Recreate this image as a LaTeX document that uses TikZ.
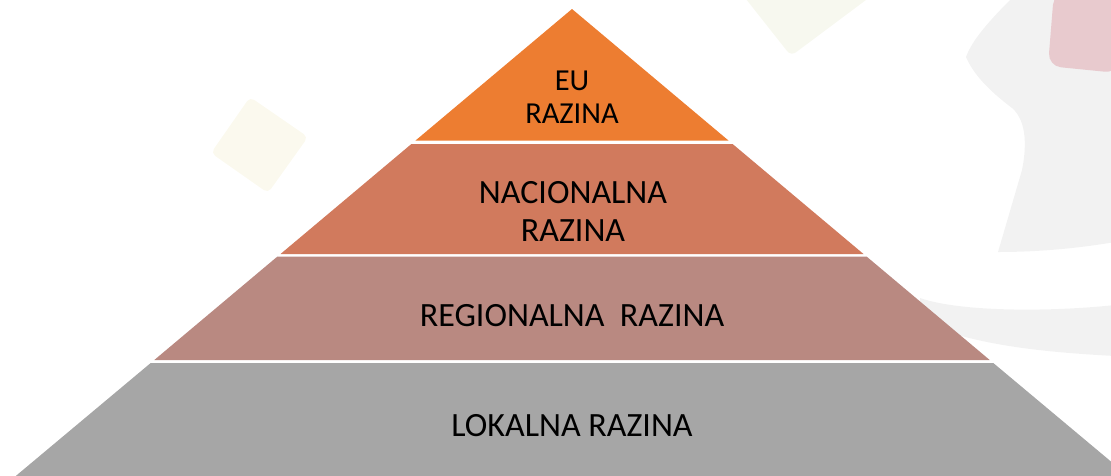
\documentclass[tikz,border=0pt]{standalone}
\usepackage{fontspec}
\setmainfont{Carlito}
\definecolor{euorange}{HTML}{ED7D31}
\definecolor{nacfill}{HTML}{D17A5D}
\definecolor{regfill}{HTML}{B98981}
\definecolor{lokfill}{HTML}{A6A6A6}
\definecolor{paleyellow}{HTML}{FBF9EE}
\definecolor{palegreen}{HTML}{F7F8EF}
\definecolor{palegrey}{HTML}{F2F2F2}
\definecolor{palepink}{HTML}{E8CACE}
\begin{document}
\begin{tikzpicture}[x=1pt,y=-1pt,
  bgshape/.style={draw=none},
  layerbox/.style={draw=none},
  lbl/.style={text=black, inner sep=0pt, align=center, font={\fontsize{34}{38}\selectfont}},
  eulbl/.style={lbl, font={\fontsize{30.5}{32.5}\selectfont}}]
\useasboundingbox (0,0) rectangle (1111,475);
\clip (0,0) rectangle (1111,475);
% background decorations
\fill[bgshape, paleyellow, rounded corners=5pt] (250,97) -- (308,137) -- (268,193) -- (211,153) -- cycle;
\fill[bgshape, palegreen, rounded corners=6pt] (742,-6) -- (791,56) -- (874,-6) -- cycle;
\fill[bgshape, palegrey] (1012,-2) .. controls (990,20) and (972,40) .. (966,57)
  .. controls (975,78) and (995,95) .. (1012,108)
  .. controls (1028,122) and (1026,150) .. (1022,170)
  -- (998,252) .. controls (1040,252) and (1080,248) .. (1115,242) -- (1115,-2) -- cycle;
\fill[bgshape, palegrey] (920,298) .. controls (960,312) and (1050,312) .. (1115,305)
  -- (1115,356) .. controls (1040,352) and (975,345) .. (920,322) -- cycle;
\fill[bgshape, palepink, rounded corners=13pt] (1054,-8) -- (1048,66) -- (1118,73) -- (1118,-8) -- cycle;
% pyramid layers
\fill[layerbox, euorange] (572,9) -- (728.7,140.7) -- (415.3,140.7) -- cycle;
\fill[layerbox, nacfill] (411.4,144) -- (732.6,144) -- (863.5,254) -- (280.5,254) -- cycle;
\fill[layerbox, regfill] (277.2,256.7) -- (866.8,256.7) -- (989.7,360) -- (154.3,360) -- cycle;
\fill[layerbox, lokfill] (150.7,363) -- (993.3,363) -- (1139,485) -- (5,485) -- cycle;
% labels
\node[eulbl] (eu) at (572,97) {EU\\RAZINA};
\node[lbl] (nac) at (573,211) {NACIONALNA\\RAZINA};
\node[lbl, anchor=base] (reg) at (572,326) {REGIONALNA\ \ RAZINA};
\node[lbl, anchor=base] (lok) at (572,436.7) {LOKALNA RAZINA};
\end{tikzpicture}
\end{document}
